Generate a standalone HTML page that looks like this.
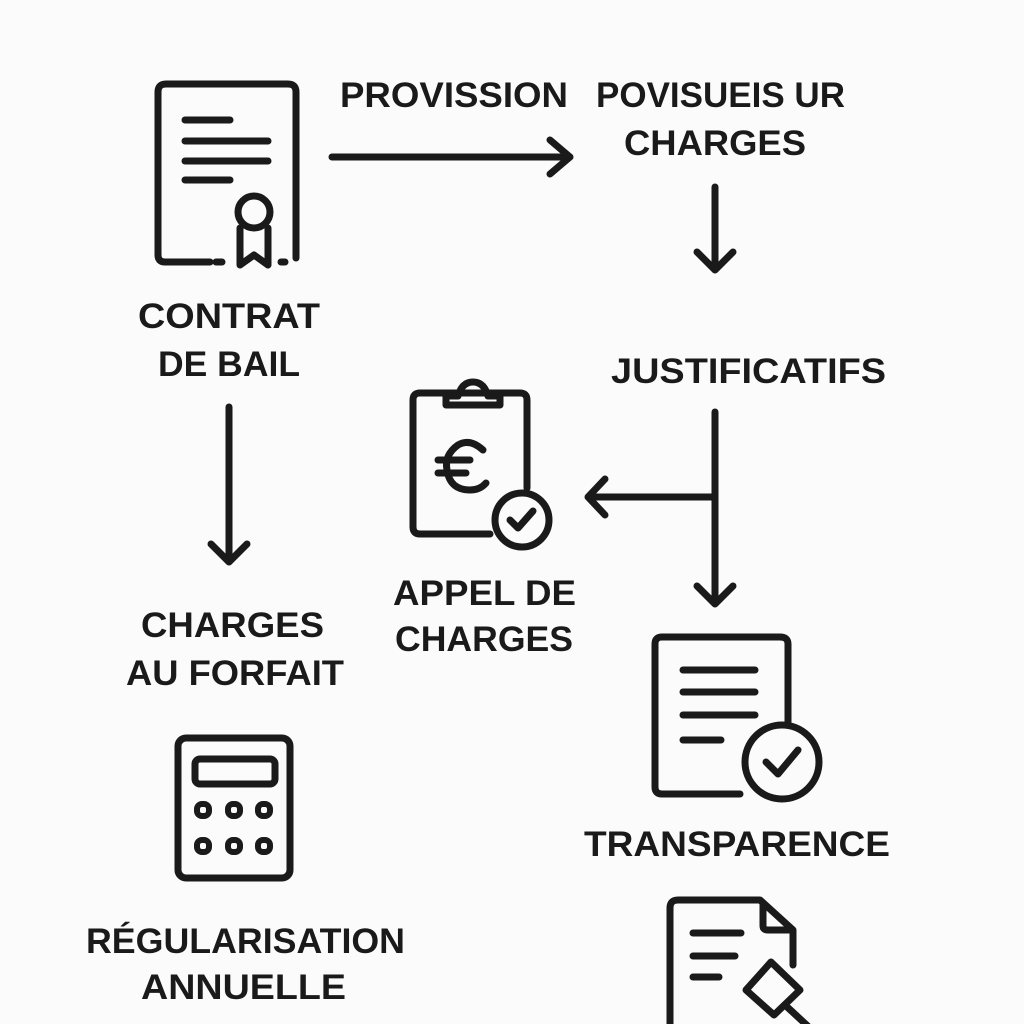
<!DOCTYPE html>
<html><head><meta charset="utf-8"><style>
html,body{margin:0;padding:0;background:#fbfbfb;}
svg{display:block}
text{font-family:"Liberation Sans",sans-serif;font-weight:bold;font-size:35px;fill:#1a1a1a}
</style></head><body>
<svg width="1024" height="1024" viewBox="0 0 1024 1024">
<rect width="1024" height="1024" fill="#fbfbfb"/>
<g stroke="#1a1a1a" stroke-width="7" fill="none" stroke-linecap="round" stroke-linejoin="round">
<!-- certificate -->
<path d="M210 262 H165 Q158 262 158 255 V92 Q158 84 166 84 H288 Q296 84 296 92 V258"/>
<path d="M216 262 h6 M281 262 h4"/>
<path d="M185 120 h45 M185 141 h83 M185 161 h83 M185 180 h45"/>
<circle cx="254" cy="212" r="16"/>
<path d="M240 228 V265 L254 255 L268 265 V228"/>
<!-- arrows -->
<path d="M332 157 H570 M550 140 L570 157 L550 174"/>
<path d="M715 187 V270 M697 252 L715 270 L733 252"/>
<path d="M229 407 V562 M211 544 L229 562 L247 544"/>
<path d="M715 412 V604 M697 586 L715 604 L733 586"/>
<path d="M715 497 H588 M605 479 L588 497 L605 515"/>
<!-- clipboard -->
<path d="M490 534 H420 Q413 534 413 527 V400 Q413 393 420 393 H520 Q527 393 527 400 V488"/>
<path d="M446 405 V396 H458 Q462 382 473 382 Q484 382 488 396 H500 V405 Z"/>
<path d="M483 450 Q470 438 458 445 Q444 455 447 470 Q450 490 470 490 Q480 490 486 483 M438 460 h32 M438 473 h28"/>
<circle cx="522" cy="520" r="27"/>
<path d="M510 520 L518 528 L533 511"/>
<!-- calculator -->
<rect x="178" y="738" width="112" height="140" rx="8"/>
<rect x="195" y="759" width="80" height="25" rx="5"/>
<g stroke-width="6">
<rect x="197" y="804" width="12" height="12" rx="5"/><rect x="228" y="804" width="12" height="12" rx="5"/><rect x="258" y="804" width="12" height="12" rx="5"/>
<rect x="197" y="840" width="12" height="12" rx="5"/><rect x="228" y="840" width="12" height="12" rx="5"/><rect x="258" y="840" width="12" height="12" rx="5"/>
</g>
<!-- transparence doc -->
<path d="M740 794 H662 Q655 794 655 787 V644 Q655 637 662 637 H780 Q788 637 788 644 V722"/>
<path d="M683 670 h72 M683 692 h72 M683 715 h72 M683 740 h38"/>
<circle cx="782" cy="762" r="37"/>
<path d="M766 762 L778 774 L798 750"/>
<!-- bottom doc with gavel -->
<path d="M670 1030 V908 Q670 900 678 900 H760 L793 930 V965"/>
<path d="M763 904 V926 Q763 930 768 930 H790"/>
<path d="M693 933 h48 M693 956 h42 M693 977 h26"/>
<path d="M746 990 L771 962 L800 990 L774 1015 Z"/>
<path d="M785 1005 L812 1030"/>
</g>
<text x="340" y="107" textLength="228" lengthAdjust="spacingAndGlyphs">PROVISSION</text>
<text x="596" y="107" textLength="249" lengthAdjust="spacingAndGlyphs">POVISUEIS UR</text>
<text x="624" y="155" textLength="182" lengthAdjust="spacingAndGlyphs">CHARGES</text>
<text x="138" y="328" textLength="182" lengthAdjust="spacingAndGlyphs">CONTRAT</text>
<text x="158" y="376" textLength="142" lengthAdjust="spacingAndGlyphs">DE BAIL</text>
<text x="611" y="383" textLength="275" lengthAdjust="spacingAndGlyphs">JUSTIFICATIFS</text>
<text x="393" y="605" textLength="183" lengthAdjust="spacingAndGlyphs">APPEL DE</text>
<text x="395" y="651" textLength="178" lengthAdjust="spacingAndGlyphs">CHARGES</text>
<text x="141" y="637" textLength="183" lengthAdjust="spacingAndGlyphs">CHARGES</text>
<text x="126" y="685" textLength="218" lengthAdjust="spacingAndGlyphs">AU FORFAIT</text>
<text x="584" y="856" textLength="306" lengthAdjust="spacingAndGlyphs">TRANSPARENCE</text>
<text x="86" y="953" textLength="319" lengthAdjust="spacingAndGlyphs">RÉGULARISATION</text>
<text x="141" y="999" textLength="205" lengthAdjust="spacingAndGlyphs">ANNUELLE</text>
</svg>
</body></html>
